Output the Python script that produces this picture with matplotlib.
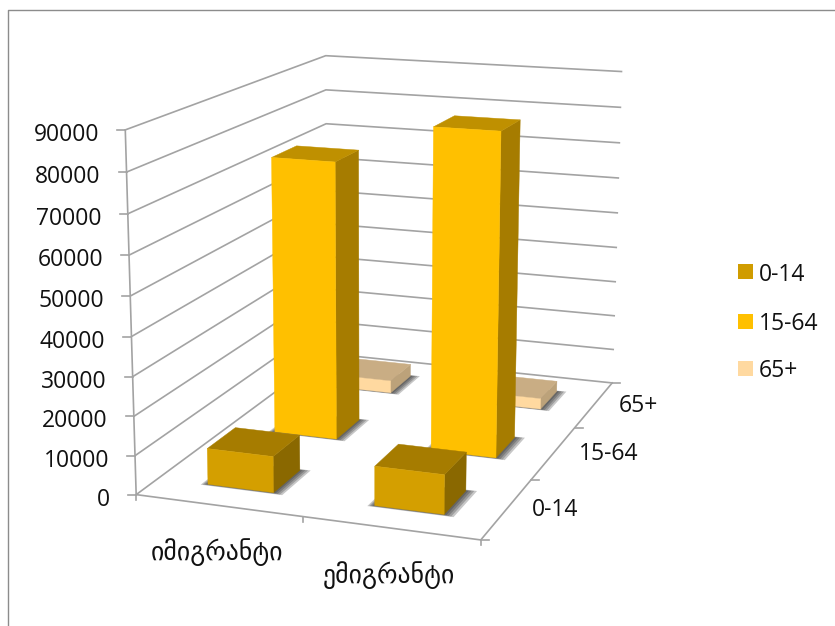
import numpy as np
import matplotlib
matplotlib.use('Agg')
import matplotlib.pyplot as plt
from matplotlib.lines import Line2D
from matplotlib.patches import Rectangle
from mpl_toolkits.mplot3d import proj3d
from mpl_toolkits.mplot3d.art3d import Poly3DCollection

groups = ['იმიგრანტი', 'ემიგრანტი']
ages = ['0-14', '15-64', '65+']
immigrants = [9300, 74300, 3500]
emigrants = [10000, 85000, 3000]
ticks = list(range(0, 100000, 10000))

front_cols = ['#d49f00', '#ffc000', '#ffd9a0']
side_cols = ['#8a6800', '#a67c00', '#bca27a']
top_cols = ['#a67c00', '#bf9000', '#c9ad84']
legend_cols = ['#d09c00', '#ffc000', '#ffd9a0']
grid_col = '#a3a3a3'
text_col = '#111111'
W, H = 835, 626

fig = plt.figure(figsize=(8.35, 6.26), dpi=100)
ax = fig.add_axes([0.05898, 0.01816, 0.80455, 1.07316], projection='3d')
ax.set_proj_type('persp', focal_length=0.5645)
ax.view_init(elev=14.1414, azim=-70.6591, roll=-0.154)
ax.set_box_aspect((1, 1.4683, 1.0269))
ax.set_axis_off()
ax.computed_zorder = False
ax.set_xlim(0, 2)
ax.set_ylim(0, 3)
ax.set_zlim(0, 90000)

# walls and floor
for t in ticks:
    ax.plot([0, 0, 2], [0, 3, 3], [t, t, t], color=grid_col, lw=1.2, zorder=1)
ax.plot([0, 2, 2], [0, 0, 3], [0, 0, 0], color=grid_col, lw=1.2, zorder=1)
ax.plot([0, 0], [0, 0], [0, 90000], color=grid_col, lw=1.2, zorder=1)


def face(verts, col, z, alpha=1.0):
    lw = 0.3 if alpha == 1.0 else 0
    p = Poly3DCollection([verts], facecolor=col, edgecolor=col, linewidth=lw, alpha=alpha, zorder=z)
    ax.add_collection3d(p)


def bar(x0, y0, w, d, v, k, z):
    x1, y1 = x0 + w, y0 + d
    # soft shadow on the floor
    for grow in [0.06, 0.045, 0.03, 0.015]:
        face([(x0 - grow * 0.6, y0 - grow * 0.35, 0), (x1 + grow, y0 - grow * 0.35, 0),
              (x1 + grow, y1 + grow * 0.3, 0), (x0 - grow * 0.6, y1 + grow * 0.3, 0)], '#202020', z, alpha=0.25)
    face([(x1, y0, 0), (x1, y1, 0), (x1, y1, v), (x1, y0, v)], side_cols[k], z + 0.1)
    face([(x0, y0, v), (x1, y0, v), (x1, y1, v), (x0, y1, v)], top_cols[k], z + 0.2)
    face([(x0, y0, 0), (x1, y0, 0), (x1, y0, v), (x0, y0, v)], front_cols[k], z + 0.3)


bw = 0.4
bd = 0.4
for j in [2, 1, 0]:
    for i, vals in enumerate([immigrants, emigrants]):
        bar(i + 0.3, j + 0.3, bw, bd, vals[j], j, 10 + (2 - j) * 2 + i)

fig.canvas.draw()
M = ax.get_proj()


def to_px(x, y, z):
    px, py, _ = proj3d.proj_transform(x, y, z, M)
    d = ax.transData.transform((px, py))
    return d[0], d[1]


def label(px, py, s, **kw):
    fig.text(px / W, py / H, s, color=text_col, **kw)


def tick(x0, y0, x1, y1):
    fig.add_artist(Line2D([x0 / W, x1 / W], [y0 / H, y1 / H], color=grid_col, lw=1.2, transform=fig.transFigure))


for t in ticks:
    px, py = to_px(0, 0, t)
    tick(px - 8, py, px, py)
    label(px - 26, py - 5, str(t), ha='right', va='center', fontsize=16.5, family='Open Sans')

for i in range(3):
    px, py = to_px(i, 0, 0)
    tick(px, py, px, py - 5)
for j in range(4):
    px, py = to_px(2, j, 0)
    tick(px, py, px + 8, py)

for i, g in enumerate(groups):
    px, py = to_px(i + 0.5, 0, 0)
    label(px - 2, py - 47, g, ha='center', va='center', fontsize=18.5, family='DejaVu Sans')
for j, a in enumerate(ages):
    px, py = to_px(2, j + 0.5, 0)
    label(px + 25, py - 1, a, ha='left', va='center', fontsize=16.5, family='Open Sans')

# legend
legend_y = [272, 321, 368]
for k, a in enumerate(ages):
    yp = legend_y[k]
    fig.add_artist(Rectangle((738 / W, 1 - (yp + 7.5) / H), 15 / W, 15 / H, transform=fig.transFigure,
                             color=legend_cols[k], lw=0))
    fig.text(759 / W, 1 - (yp + 3) / H, a, ha='left', va='center', fontsize=16.5, color=text_col, family='Open Sans')

# chart border
fig.add_artist(Line2D([7.5 / W, 7.5 / W, 1], [0, 1 - 9.5 / H, 1 - 9.5 / H], color='#8c8c8c', lw=1.0,
                      transform=fig.transFigure))

fig.savefig('out.png', dpi=100)
